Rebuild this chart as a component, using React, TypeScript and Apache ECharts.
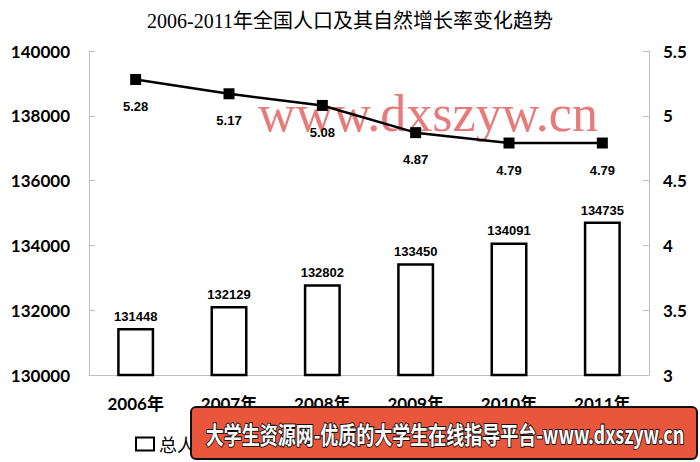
import React, { useEffect, useRef } from "react";
import * as echarts from "echarts";

const categories = ["2006年", "2007年", "2008年", "2009年", "2010年", "2011年"];
const population = [131448, 132129, 132802, 133450, 134091, 134735];
const growthRate = [5.28, 5.17, 5.08, 4.87, 4.79, 4.79];
const seriesNames = ["总人口（万人）", "自然增长率（‰）"];
const titleText = "2006-2011年全国人口及其自然增长率变化趋势";
const watermarkText = "www.dxszyw.cn";
const bannerText = "大学生资源网-优质的大学生在线指导平台-www.dxszyw.cn";

export default function App() {
  const ref = useRef<HTMLDivElement>(null);
  useEffect(() => {
    if (!ref.current) return;
    const chart = echarts.init(ref.current, undefined, { renderer: "svg" });
    const axisGray = "#bfbfbf";
    chart.setOption({
      animation: false,
      backgroundColor: "#ffffff",
      title: {
        text: titleText,
        left: "center",
        top: 6,
        textStyle: {
          fontFamily: "'Liberation Serif', 'Noto Sans CJK SC'",
          fontSize: 20,
          fontWeight: "normal",
          color: "#000",
        },
      },
      legend: {
        left: 130,
        top: 430,
        itemWidth: 18,
        itemHeight: 13,
        itemGap: 30,
        textStyle: { fontFamily: "'Noto Sans CJK SC'", fontSize: 18, color: "#000" },
        data: [
          { name: seriesNames[0], icon: "rect" },
          { name: seriesNames[1] },
        ],
      },
      grid: { left: 89, right: 51, top: 51, bottom: 87 },
      xAxis: {
        type: "category",
        data: categories,
        axisLine: { lineStyle: { color: axisGray, width: 1 } },
        axisTick: { inside: true, length: 6, lineStyle: { color: axisGray } },
        axisLabel: {
          margin: 20,
          fontFamily: "Lato, 'Noto Sans CJK SC'",
          fontWeight: "bold",
          fontSize: 17,
          color: "#000",
        },
      },
      yAxis: [
        {
          type: "value",
          min: 130000,
          max: 140000,
          interval: 2000,
          splitLine: { show: false },
          axisLine: { show: true, lineStyle: { color: axisGray } },
          axisTick: { show: true, inside: true, length: 6, lineStyle: { color: axisGray } },
          axisLabel: {
            margin: 19,
            fontFamily: "Lato",
            fontWeight: "bold",
            fontSize: 17,
            color: "#000",
            formatter: (v: number) => String(v),
          },
        },
        {
          type: "value",
          min: 3,
          max: 5.5,
          interval: 0.5,
          splitLine: { show: false },
          axisLine: { show: true, lineStyle: { color: axisGray } },
          axisTick: { show: true, inside: true, length: 6, lineStyle: { color: axisGray } },
          axisLabel: {
            margin: 14,
            fontFamily: "Lato",
            fontWeight: "bold",
            fontSize: 17,
            color: "#000",
            formatter: (v: number) => String(v),
          },
        },
      ],
      series: [
        {
          name: seriesNames[0],
          type: "bar",
          data: population,
          barWidth: 37,
          itemStyle: { color: "#ffffff", borderColor: "#000", borderWidth: 2.5 },
          label: {
            show: true,
            position: "top",
            distance: 5,
            fontFamily: "'Liberation Sans'",
            fontWeight: "bold",
            fontSize: 13,
            color: "#000",
          },
          z: 3,
        },
        {
          name: seriesNames[1],
          type: "line",
          yAxisIndex: 1,
          data: growthRate,
          symbol: "rect",
          symbolSize: 11,
          lineStyle: { color: "#000", width: 2.5 },
          itemStyle: { color: "#000" },
          label: {
            show: true,
            position: "bottom",
            distance: 15,
            fontFamily: "'Liberation Sans'",
            fontWeight: "bold",
            fontSize: 13,
            color: "#000",
          },
          z: 4,
        },
      ],
      graphic: [
        {
          type: "text",
          x: 428,
          y: 113,
          z: 1,
          style: {
            text: watermarkText,
            fill: "rgba(226, 100, 100, 0.85)",
            font: "52px 'Liberation Serif'",
            align: "center",
            verticalAlign: "middle",
          },
        },
        {
          type: "rect",
          z: 100,
          shape: { x: 191, y: 407, width: 506, height: 52, r: 5 },
          style: { fill: "#e9563c", stroke: "#111", lineWidth: 2 },
        },
        {
          type: "text",
          z: 101,
          x: 445,
          y: 433,
          scaleX: 0.75,
          style: {
            text: bannerText,
            fill: "#ffffff",
            stroke: "#111",
            lineWidth: 2,
            font: "bold 24px 'Noto Sans CJK SC'",
            align: "center",
            verticalAlign: "middle",
          },
        },
      ],
    });
    return () => chart.dispose();
  }, []);
  return (
    <div
      ref={ref}
      style={{ position: "fixed", left: 0, top: 0, width: 700, height: 462 }}
    />
  );
}
